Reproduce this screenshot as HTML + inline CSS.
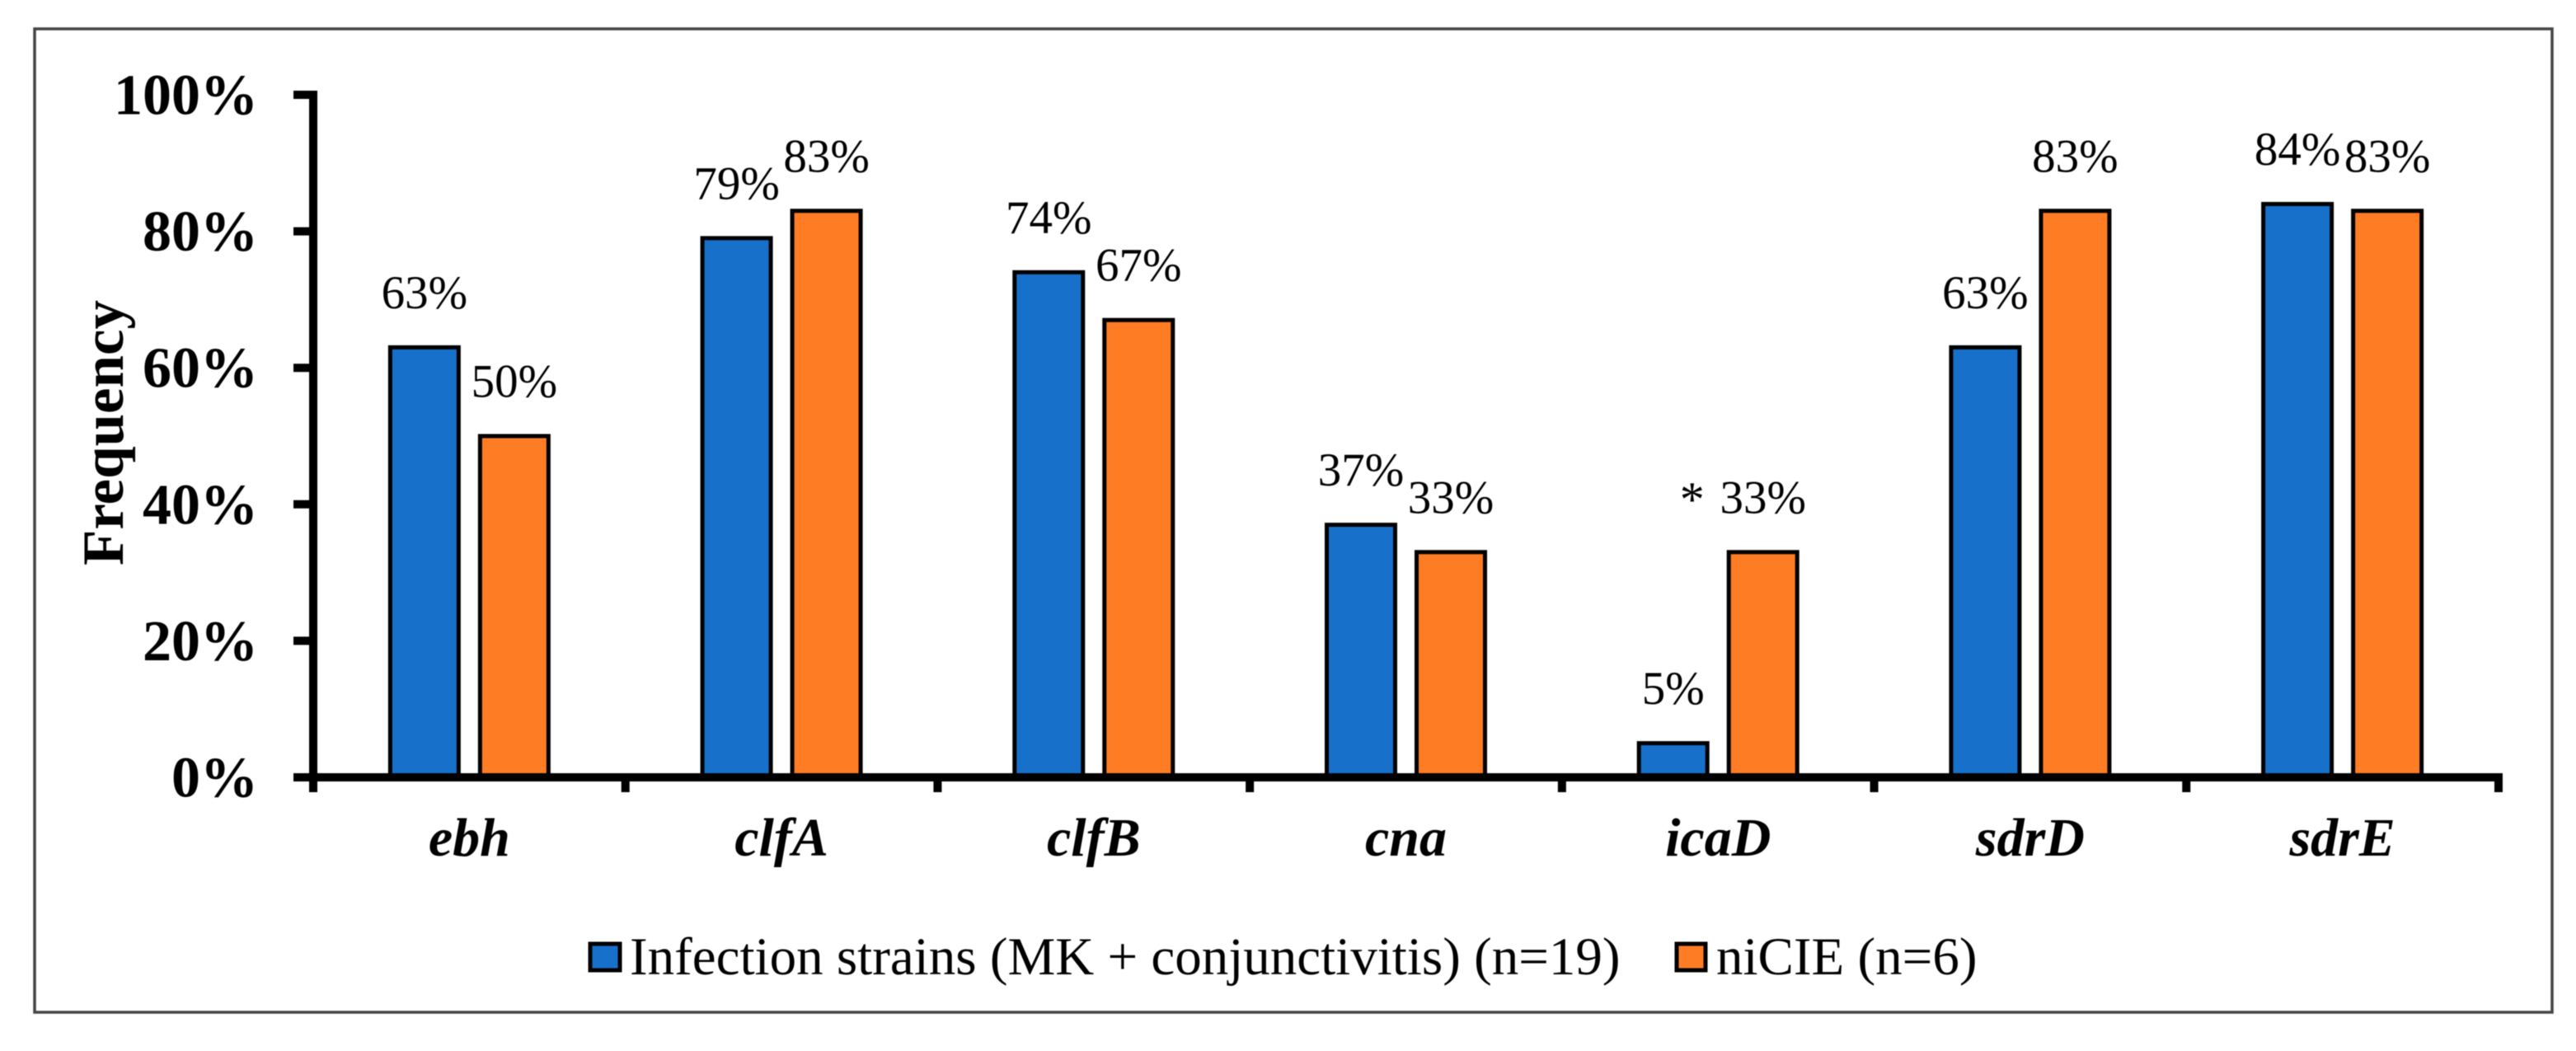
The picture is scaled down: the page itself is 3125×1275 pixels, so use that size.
<!DOCTYPE html>
<html lang="en">
<head>
<meta charset="utf-8">
<title>Adhesion gene frequency chart</title>
<style>
  html, body { margin: 0; padding: 0; background: #ffffff; }
  body { width: 3125px; height: 1275px; overflow: hidden; }
  svg { display: block; filter: blur(0.6px); }
  text { font-family: "Liberation Serif", "Times New Roman", serif; fill: #000000; }
</style>
</head>
<body>
<svg id="chart" xmlns="http://www.w3.org/2000/svg" width="3125" height="1275" viewBox="0 0 3125 1275">
  <rect x="0" y="0" width="3125" height="1275" fill="#ffffff"/>
  <rect x="42" y="35" width="3054" height="1193" fill="none" stroke="#444444" stroke-width="3.5"/>
  <g id="bars"></g>
  <g id="axes"></g>
  <g id="labels"></g>
  <text transform="translate(149,525) rotate(-90)" text-anchor="middle" font-size="71" font-weight="700">Frequency</text>
  <g>
    <g>
      <rect x="716" y="1145" width="36" height="32" fill="#1771cb" stroke="#000000" stroke-width="5"/>
      <text x="764" y="1182" font-size="65">Infection strains (MK + conjunctivitis) (n=19)</text>
    </g>
    <g>
      <rect x="2034" y="1145" width="35" height="32" fill="#fe7d24" stroke="#000000" stroke-width="5"/>
      <text x="2082" y="1182" font-size="65">niCIE (n=6)</text>
    </g>
  </g>
</svg>
<script>
const categories = ["ebh", "clfA", "clfB", "cna", "icaD", "sdrD", "sdrE"];
const infectionValues = [63, 79, 74, 37, 5, 63, 84];
const nicieValues = [50, 83, 67, 33, 33, 83, 83];
const yTickValues = [0, 20, 40, 60, 80, 100];
const significantCategories = ["icaD"];

const SVG_NS = "http://www.w3.org/2000/svg";
const plotLeft = 380, plotRight = 3031, plotTop = 115, plotBottom = 943;
const barWidth = 83, barOffset = 54.5;
const colorInfection = "#1771cb", colorNicie = "#fe7d24";

function yScale(v) { return plotBottom - (v / 100) * (plotBottom - plotTop); }
function bandEdge(i) { return plotLeft + (i / categories.length) * (plotRight - plotLeft); }
function bandCenter(i) { return bandEdge(i + 0.5); }

function make(tag, parent, attrs, content) {
  const el = document.createElementNS(SVG_NS, tag);
  Object.keys(attrs).forEach(function (k) { el.setAttribute(k, attrs[k]); });
  if (content !== undefined) el.textContent = content;
  parent.appendChild(el);
  return el;
}

const barsGroup = document.getElementById("bars");
const axesGroup = document.getElementById("axes");
const labelsGroup = document.getElementById("labels");

function drawBar(value, center, color, slug, catName) {
  const top = yScale(value);
  const bar = make("rect", barsGroup, {
    x: center - barWidth / 2, y: top, width: barWidth, height: plotBottom - top,
    fill: color, stroke: "#000000", "stroke-width": 5
  });
  
  
  const label = make("text", labelsGroup, {
    x: center, y: top - 47.5, "text-anchor": "middle", "font-size": 57
  }, value + "%");
  
  
}

categories.forEach(function (cat, i) {
  const c = bandCenter(i);
  drawBar(infectionValues[i], c - barOffset, colorInfection, "infection", cat);
  drawBar(nicieValues[i], c + barOffset, colorNicie, "nicie", cat);

  if (significantCategories.indexOf(cat) !== -1) {
    const star = make("text", labelsGroup, {
      x: c + barOffset - 86, y: yScale(nicieValues[i]) - 44, "text-anchor": "middle", "font-size": 60
    }, "*");
    
    
  }

  const catLabel = make("text", axesGroup, {
    x: c, y: 1038, "text-anchor": "middle", "font-size": 66,
    "font-weight": 700, "font-style": "italic"
  }, cat);
  
  
});

yTickValues.forEach(function (v) {
  const y = yScale(v);
  const tick = make("line", axesGroup, {
    x1: 356, x2: plotLeft, y1: y, y2: y, stroke: "#000000", "stroke-width": 10
  });
  
  
  const lab = make("text", axesGroup, {
    x: 313, y: y + 23.5, "text-anchor": "end", "font-size": 70, "font-weight": 700
  }, v + "%");
  
  
});

for (let i = 0; i <= categories.length; i++) {
  const x = bandEdge(i);
  const tick = make("line", axesGroup, {
    x1: x, x2: x, y1: plotBottom, y2: 961, stroke: "#000000", "stroke-width": 10
  });
  
  
}

const yAxis = make("line", axesGroup, {
  x1: plotLeft, x2: plotLeft, y1: plotTop - 5, y2: plotBottom + 5, stroke: "#000000", "stroke-width": 10
});



const xAxis = make("line", axesGroup, {
  x1: 356, x2: plotRight + 5, y1: plotBottom, y2: plotBottom, stroke: "#000000", "stroke-width": 10
});


</script>
</body>
</html>
